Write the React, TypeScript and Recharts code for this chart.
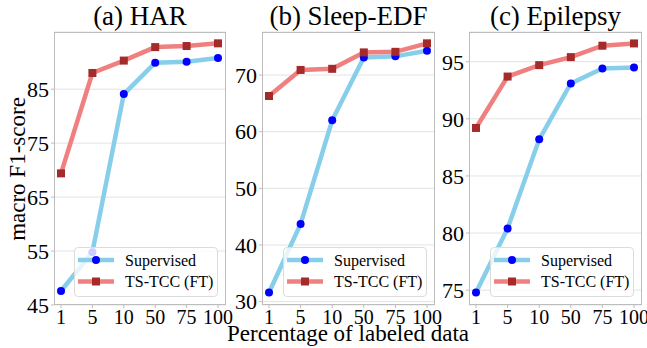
import React from 'react';
import { LineChart, Line, XAxis, YAxis, CartesianGrid } from 'recharts';

// percentage of labeled data (x categories)
const pctLabels = ['1', '5', '10', '50', '75', '100'];

// (a) HAR
const harSupervised = [47.6, 54.8, 84.1, 89.9, 90.1, 90.8];
const harTSTCC = [69.4, 88.0, 90.3, 92.8, 93.0, 93.5];
const harTicks = [45, 55, 65, 75, 85];

// (b) Sleep-EDF
const sleepSupervised = [31.6, 43.7, 62.0, 73.1, 73.3, 74.3];
const sleepTSTCC = [66.3, 70.9, 71.1, 74.0, 74.1, 75.6];
const sleepTicks = [30, 40, 50, 60, 70];

// (c) Epilepsy
const epiSupervised = [74.8, 80.4, 88.2, 93.1, 94.4, 94.5];
const epiTSTCC = [89.2, 93.7, 94.7, 95.4, 96.4, 96.6];
const epiTicks = [75, 80, 85, 90, 95];

const FONT = '"Liberation Serif", "Times New Roman", serif';
const SUP_LINE = '#87ceeb';
const SUP_DOT = '#0000ff';
const TCC_LINE = '#f08080';
const TCC_DOT = '#a52a2a';

const PLOT_TOP = 32;
const PLOT_BOTTOM = 305;
const Y_AXIS_W = 40;
const RIGHT_PAD = 20;

const SquareDot = (props: any) => {
  const { cx, cy } = props;
  if (cx == null || cy == null) return null;
  return <rect x={cx - 4} y={cy - 4} width={8} height={8} fill={TCC_DOT} />;
};

// serif tick labels (matplotlib Times look)
const XTick = (props: any) => {
  const { x, y, payload } = props;
  return (
    <text x={x} y={y} dy="0.71em" textAnchor="middle" fontFamily={FONT} fontSize={20} fill="#000">
      {payload.value}
    </text>
  );
};

const YTick = (props: any) => {
  const { x, y, payload } = props;
  return (
    <text x={x} y={y} dy="0.355em" textAnchor="end" fontFamily={FONT} fontSize={22} fill="#000">
      {payload.value}
    </text>
  );
};

const Legend = ({ right }: { right: number }) => (
  <div
    style={{
      position: 'absolute',
      left: right - 8 - 144,
      top: 247,
      width: 144,
      height: 50,
      boxSizing: 'border-box',
      background: 'rgba(255,255,255,0.8)',
      border: '1px solid #dcdcdc',
      borderRadius: 4,
    }}
  >
    <svg width={144} height={50} style={{ position: 'absolute', left: -1, top: -1 }}>
      <line x1={4} x2={40} y1={13} y2={13} stroke={SUP_LINE} strokeWidth={4.5} />
      <circle cx={22} cy={13} r={4} fill={SUP_DOT} />
      <text x={51} y={13} dominantBaseline="central" fontFamily={FONT} fontSize={16} fill="#000">
        Supervised
      </text>
      <line x1={4} x2={40} y1={34.5} y2={34.5} stroke={TCC_LINE} strokeWidth={4.5} />
      <rect x={18} y={30.5} width={8} height={8} fill={TCC_DOT} />
      <text x={51} y={34.5} dominantBaseline="central" fontFamily={FONT} fontSize={16} fill="#000">
        TS-TCC (FT)
      </text>
    </svg>
  </div>
);

interface PanelProps {
  chartLeft: number;
  plotLeft: number;
  plotRight: number;
  domain: [number, number];
  ticks: number[];
  supervised: number[];
  tstcc: number[];
}

const Panel = ({ chartLeft, plotLeft, plotRight, domain, ticks, supervised, tstcc }: PanelProps) => {
  const data = pctLabels.map((p, i) => ({ pct: p, supervised: supervised[i], tstcc: tstcc[i] }));
  const width = plotRight - chartLeft + RIGHT_PAD;
  return (
    <>
      <div style={{ position: 'absolute', left: chartLeft, top: 0 }}>
        <LineChart
          width={width}
          height={348}
          data={data}
          margin={{ top: PLOT_TOP, right: RIGHT_PAD, bottom: 348 - PLOT_BOTTOM - 30, left: plotLeft - chartLeft - Y_AXIS_W }}
        >
          <CartesianGrid vertical={false} stroke="#e3e3e3" strokeWidth={1} />
          <XAxis
            dataKey="pct"
            scale="point"
            padding={{ left: 7, right: 8 }}
            height={30}
            axisLine={false}
            tickSize={3}
            tickLine={{ stroke: '#bdbdbd' }}
            tick={<XTick />}
            interval={0}
          />
          <YAxis
            type="number"
            domain={domain}
            ticks={ticks}
            width={Y_AXIS_W}
            axisLine={false}
            tickSize={3}
            tickLine={{ stroke: '#bdbdbd' }}
            tick={<YTick />}
            allowDataOverflow
          />
          <Line
            dataKey="supervised"
            stroke={SUP_LINE}
            strokeWidth={4.5}
            dot={{ r: 4, fill: SUP_DOT, stroke: 'none' }}
            activeDot={false}
            isAnimationActive={false}
          />
          <Line
            dataKey="tstcc"
            stroke={TCC_LINE}
            strokeWidth={4.5}
            dot={<SquareDot />}
            activeDot={false}
            isAnimationActive={false}
          />
        </LineChart>
      </div>
      <div
        style={{
          position: 'absolute',
          left: plotLeft,
          top: PLOT_TOP,
          width: plotRight - plotLeft,
          height: PLOT_BOTTOM - PLOT_TOP,
          boxSizing: 'border-box',
          border: '1px solid #bdbdbd',
          pointerEvents: 'none',
        }}
      />
      <Legend right={plotRight} />
    </>
  );
};

export default function App() {
  return (
    <div style={{ position: 'absolute', left: 0, top: 0, width: 647, height: 348, background: '#fff', overflow: 'hidden' }}>
      <Panel chartLeft={0} plotLeft={54} plotRight={226} domain={[45, 95.6]} ticks={harTicks} supervised={harSupervised} tstcc={harTSTCC} />
      <Panel chartLeft={222} plotLeft={262} plotRight={435} domain={[29.4, 77.6]} ticks={sleepTicks} supervised={sleepSupervised} tstcc={sleepTSTCC} />
      <Panel chartLeft={429} plotLeft={469} plotRight={642} domain={[73.7, 97.6]} ticks={epiTicks} supervised={epiSupervised} tstcc={epiTSTCC} />
      <svg width={647} height={348} style={{ position: 'absolute', left: 0, top: 0, pointerEvents: 'none' }}>
        <text x={140} y={25} textAnchor="middle" fontFamily={FONT} fontSize={27} fill="#000">(a) HAR</text>
        <text x={348.5} y={25} textAnchor="middle" fontFamily={FONT} fontSize={27} fill="#000">(b) Sleep-EDF</text>
        <text x={555.5} y={25} textAnchor="middle" fontFamily={FONT} fontSize={27} fill="#000">(c) Epilepsy</text>
        <text x={348} y={341} textAnchor="middle" fontFamily={FONT} fontSize={23} fill="#000">Percentage of labeled data</text>
        <text x={25} y={169} textAnchor="middle" transform="rotate(-90, 25, 169)" fontFamily={FONT} fontSize={23} fill="#000">macro F1-score</text>
      </svg>
    </div>
  );
}
